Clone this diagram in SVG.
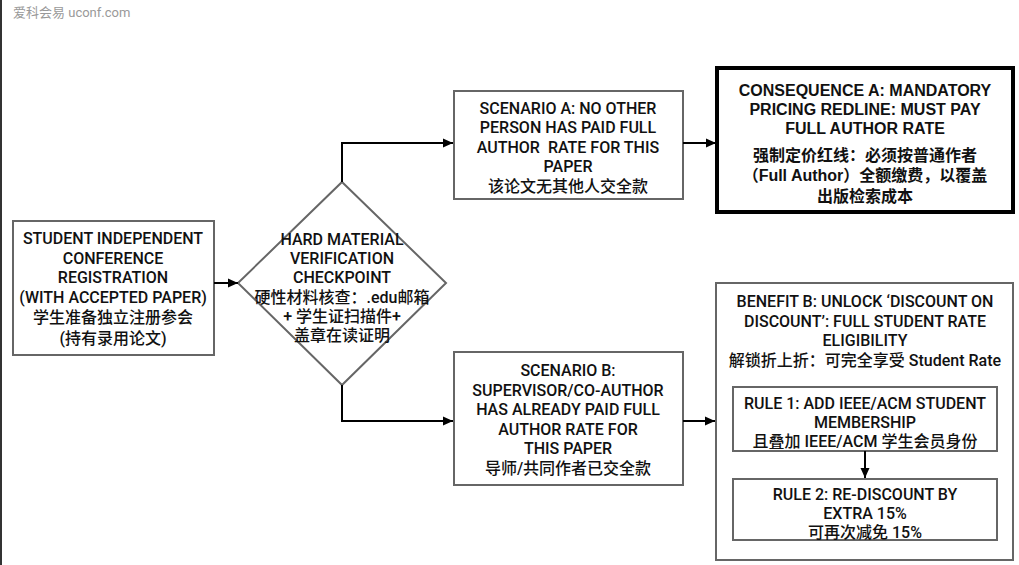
<svg xmlns="http://www.w3.org/2000/svg" width="1019" height="565" viewBox="0 0 1019 565">
<defs>
<marker id="arr" viewBox="0 0 10 10" refX="10" refY="5" markerWidth="10" markerHeight="10" markerUnits="userSpaceOnUse" orient="auto">
<path d="M0,0.5 L10,5 L0,9.5 Z" fill="#000"/>
</marker>
<style>
.box{fill:#fff;stroke:#666;stroke-width:2}
.strong{fill:#fff;stroke:#000;stroke-width:4}
.t{font-family:Roboto,"Noto Sans CJK SC",sans-serif;font-size:16px;font-weight:500;fill:#111;text-anchor:middle}
.b{font-family:"Liberation Sans","Noto Sans CJK SC",sans-serif;font-size:16px;font-weight:bold;fill:#111;text-anchor:middle}
.c{stroke:#000;stroke-width:2;fill:none;marker-end:url(#arr)}
</style>
</defs>
<rect x="0" y="0" width="1019" height="565" fill="#fff"/>
<rect x="0" y="0" width="2" height="565" fill="#333"/>
<text x="13" y="17" font-family="Roboto,'Noto Sans CJK SC',sans-serif" font-size="13" fill="#999">爱科会易 uconf.com</text>

<g id="student">
<rect class="box" x="13" y="221" width="201" height="134"/>
<text class="t" x="113" y="244">STUDENT INDEPENDENT<tspan x="113" dy="19.6">CONFERENCE</tspan><tspan x="113" dy="19.6">REGISTRATION</tspan><tspan x="113" dy="19.6">(WITH ACCEPTED PAPER)</tspan><tspan x="113" dy="20.5">学生准备独立注册参会</tspan><tspan x="113" dy="20.5">(持有录用论文)</tspan></text>
</g>

<g id="checkpoint">
<polygon class="box" points="342,182 446,283 342,385 238,283"/>
<text class="t" x="342" y="245">HARD MATERIAL<tspan x="342" dy="19">VERIFICATION</tspan><tspan x="342" dy="19">CHECKPOINT</tspan><tspan x="342" dy="19.5">硬性材料核查：.edu邮箱</tspan><tspan x="342" dy="19.5">+ 学生证扫描件+</tspan><tspan x="342" dy="19">盖章在读证明</tspan></text>
</g>

<g id="scenarioA">
<rect class="box" x="454" y="91" width="229" height="108"/>
<text class="t" x="568" y="114" style="white-space:pre">SCENARIO A: NO OTHER<tspan x="568" dy="19.4">PERSON HAS PAID FULL</tspan><tspan x="568" dy="19.4">AUTHOR  RATE FOR THIS</tspan><tspan x="568" dy="19.4">PAPER</tspan><tspan x="568" dy="19.4">该论文无其他人交全款</tspan></text>
</g>

<g id="consequenceA">
<rect class="strong" x="717" y="68" width="296" height="144"/>
<text class="b" x="865" y="96">CONSEQUENCE A: MANDATORY<tspan x="865" dy="19.2">PRICING REDLINE: MUST PAY</tspan><tspan x="865" dy="19.2">FULL AUTHOR RATE</tspan></text>
<text class="b" x="865" y="161">强制定价红线：必须按普通作者<tspan x="865" dy="20.3">（Full Author）全额缴费，以覆盖</tspan><tspan x="865" dy="20.3">出版检索成本</tspan></text>
</g>

<g id="scenarioB">
<rect class="box" x="454" y="352" width="229" height="133"/>
<text class="t" x="568" y="376">SCENARIO B:<tspan x="568" dy="19.5">SUPERVISOR/CO-AUTHOR</tspan><tspan x="568" dy="19.5">HAS ALREADY PAID FULL</tspan><tspan x="568" dy="19.5">AUTHOR RATE FOR</tspan><tspan x="568" dy="19.5">THIS PAPER</tspan><tspan x="568" dy="19.5">导师/共同作者已交全款</tspan></text>
</g>

<g id="benefitB">
<rect class="box" x="716" y="283" width="297" height="277"/>
<text class="t" x="865" y="307">BENEFIT B: UNLOCK ‘DISCOUNT ON<tspan x="865" dy="19.6">DISCOUNT’: FULL STUDENT RATE</tspan><tspan x="865" dy="19.6">ELIGIBILITY</tspan><tspan x="865" dy="20">解锁折上折：可完全享受 Student Rate</tspan></text>
</g>

<g id="rule1">
<rect class="box" x="733" y="387" width="264" height="64"/>
<text class="t" x="865" y="409">RULE 1: ADD IEEE/ACM STUDENT<tspan x="865" dy="19">MEMBERSHIP</tspan><tspan x="865" dy="19">且叠加 IEEE/ACM 学生会员身份</tspan></text>
</g>

<g id="rule2">
<rect class="box" x="733" y="479" width="264" height="61"/>
<text class="t" x="865" y="500">RULE 2: RE-DISCOUNT BY<tspan x="865" dy="19">EXTRA 15%</tspan><tspan x="865" dy="19">可再次减免 15%</tspan></text>
</g>

<g id="connectors">
<path class="c" d="M214,283 L238,283"/>
<path class="c" d="M342,182 L342,143 L453,143"/>
<path class="c" d="M342,385 L342,421 L453,421"/>
<path class="c" d="M683,143 L716,143"/>
<path class="c" d="M683,421 L715,421"/>
<path class="c" d="M865,451 L865,478"/>
</g>
</svg>
